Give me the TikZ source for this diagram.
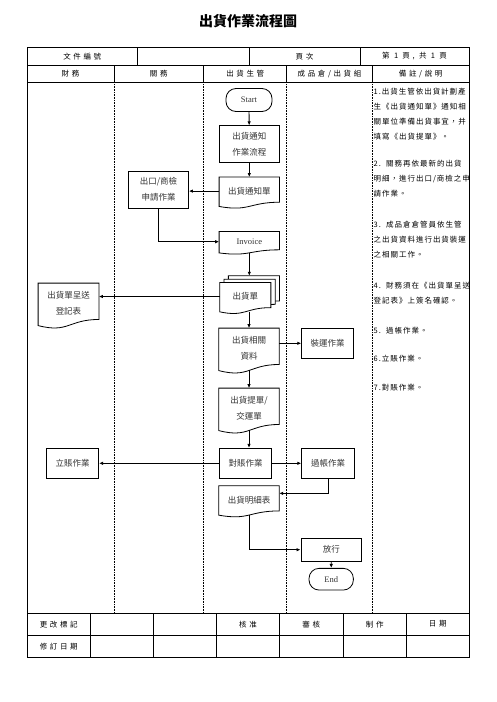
\documentclass[tikz,border=0pt]{standalone}
\usepackage{fontspec}
\setmainfont{Noto Sans CJK TC}
\newfontfamily\notefont[LetterSpace=13]{Noto Sans CJK TC}
\newfontfamily\headfont[LetterSpace=35]{Noto Sans CJK TC}
\newfontfamily\latinfont{Liberation Serif}
\usetikzlibrary{calc,arrows.meta,backgrounds}
\tikzset{
  grid/.style={line width=0.9pt},
  lane/.style={line width=0.6pt, dash pattern=on 0.8pt off 0.8pt},
  head/.style={inner sep=0pt, font=\headfont\fontsize{7.5}{9}\selectfont},
  note/.style={anchor=north west, inner sep=0pt, align=left, font=\notefont\fontsize{7.5}{15}\selectfont},
  box/.style={draw, line width=0.8pt, inner sep=1pt, align=center, text=black!80, font=\fontsize{8.5}{16}\selectfont},
  term/.style={box, rounded corners=10pt, font=\latinfont\fontsize{8.5}{16}\selectfont},
  docu/.style={inner sep=0pt, align=center, text=black!80, font=\fontsize{8.5}{16}\selectfont},
  docline/.style={draw, line width=0.8pt, fill=white},
  flow/.style={line width=0.8pt, -{Latex[length=4pt,width=3.5pt]}}
}
\newcommand\docshape[1]{%
  \draw[docline] (#1.north west) -- (#1.north east) -- ($(#1.north east)!0.896!(#1.south east)$)
    .. controls ($(#1.north)!0.896!(#1.south)$) and ($(#1.north)!1.24!(#1.south)$) .. ($(#1.north west)!1.046!(#1.south west)$) -- cycle;
  \coordinate (#1-b) at ($(#1.north)!1.044!(#1.south)$);}
\begin{document}
\begin{tikzpicture}[x=1pt,y=-1pt]
  \useasboundingbox (0,0) rectangle (496,702);
  \node[font=\bfseries\fontsize{14}{16}\selectfont] (title) at (248,20.7) {出貨作業流程圖};
  \draw[grid] (27,47.7) rectangle (469,657.3);
  \draw[grid] (27,65.3) -- (469,65.3) (27,82.3) -- (469,82.3)
    (27,613.3) -- (469,613.3) (27,635) -- (469,635);
  \draw[grid] (137.7,47.7) -- (137.7,65.3) (249,47.7) -- (249,65.3) (360,47.7) -- (360,65.3);
  \foreach \x in {114,203.7,286.7,372.3} {
    \draw[grid] (\x,65.3) -- (\x,82.3);
    \draw[lane] (\x,82.3) -- (\x,613.3);
  }
  \foreach \x in {90.3,153.3,216.7,279.3,343.3,406.3}
    \draw[line width=0.6pt] (\x,613.3) -- (\x,657.3);

  \node[head] (docno) at (82.3,56.5) {文件編號};
  \node[head] (pageno) at (304.5,56.5) {頁次};
  \node[head] (pages) at (414.5,56.5) {第 1 頁, 共 1 頁};
  \node[head] (lanefin) at (70.5,73.8) {財務};
  \node[head] (lanecus) at (158.8,73.8) {關務};
  \node[head] (laneplan) at (245.2,73.8) {出貨生管};
  \node[head] (lanewh) at (329.5,73.8) {成品倉/出貨組};
  \node[head] (lanenote) at (420.7,73.8) {備註/說明};
  \node[head] (revmark) at (58.7,624.2) {更改標記};
  \node[head] (approve) at (248,624.2) {核准};
  \node[head] (review) at (311.3,624.2) {審核};
  \node[head] (author) at (374.8,624.2) {制作};
  \node[head] (date) at (437.7,624.2) {日期};
  \node[head] (revdate) at (58.7,646.2) {修訂日期};

  \node[note] (n1) at (373.5,87.5) {1.出貨生管依出貨計劃產\\生《出貨通知單》通知相\\關單位準備出貨事宜，并\\填寫《出貨提單》。};
  \node[note] (n2) at (373.5,159.5) {2.\ \ 關務再依最新的出貨\\明細，進行出口/商檢之申\\請作業。};
  \node[note] (n3) at (373.5,220.5) {3.\ \ 成品倉倉管員依生管\\之出貨資料進行出貨裝運\\之相關工作。};
  \node[note] (n4) at (373.5,281.5) {4.\ \ 財務須在《出貨單呈送\\登記表》上簽名確認。};
  \node[note] (n5) at (373.5,326.5) {5.\ \ 過帳作業。};
  \node[note] (n6) at (373.5,354.5) {6.立賬作業。};
  \node[note] (n7) at (373.5,383.5) {7.對賬作業。};

  \node[term, minimum width=46, minimum height=23] (start) at (249,100) {Start};
  \node[box, minimum width=60, minimum height=37] (notice) at (249.3,144.3) {出貨通知\\作業流程};
  \node[docu, minimum width=60, minimum height=27.7] (noticeform) at (249.3,191.1) {出貨通知單};
  \node[box, minimum width=60, minimum height=37] (expbox) at (158.5,189.7) {出口/商檢\\申請作業};
  \node[docu, minimum width=60, minimum height=20.1, font=\latinfont\fontsize{8.5}{16}\selectfont] (invoice) at (249.3,241.7) {Invoice};
  \node[docu, minimum width=50.7, minimum height=27.7] (shipback) at (253.9,289.8) {};
  \node[docu, minimum width=50.7, minimum height=27.7] (shipmid) at (249.6,293.2) {};
  \node[docu, minimum width=50.7, minimum height=27.7] (shipform) at (245.3,296.5) {出貨單};
  \node[docu, minimum width=60.4, minimum height=40.2] (shiplog) at (68.5,303.4) {出貨單呈送\\登記表};
  \node[docu, minimum width=60, minimum height=40.2] (shipdata) at (249,348.4) {出貨相關\\資料};
  \node[box, minimum width=51.7, minimum height=30] (loading) at (327.5,343.3) {裝運作業};
  \node[docu, minimum width=60, minimum height=40.2] (billlading) at (249,408.4) {出貨提單/\\交運單};
  \node[box, minimum width=52.3, minimum height=30] (recon) at (245.5,463.3) {對賬作業};
  \node[box, minimum width=52, minimum height=30] (ledger) at (72.7,463.3) {立賬作業};
  \node[box, minimum width=52.6, minimum height=30] (posting) at (328,463.3) {過帳作業};
  \node[docu, minimum width=60, minimum height=27.7] (detail) at (249,499.8) {出貨明細表};
  \node[box, minimum width=60.7, minimum height=22.7] (release) at (331.3,549.7) {放行};
  \node[term, minimum width=44.3, minimum height=21.7] (fin) at (331.2,579.2) {End};

  \begin{scope}[on background layer]
    \docshape{noticeform}
    \docshape{invoice}
    \docshape{shipback}
    \docshape{shipmid}
    \docshape{shipform}
    \docshape{shiplog}
    \docshape{shipdata}
    \docshape{billlading}
    \docshape{detail}
  \end{scope}

  \draw[flow] (start) -- (notice);
  \draw[flow] (notice) -- (noticeform);
  \draw[flow] (noticeform.west) -- (noticeform.west -| expbox.east);
  \draw[flow] (expbox.south) |- (invoice.west);
  \draw[flow] (invoice-b) -- (invoice-b |- shipback.north);
  \draw[flow] (shipform.west) -- (shipform.west -| shiplog.east);
  \draw[flow] (shipdata.north |- shipform-b) -- (shipdata.north);
  \draw[flow] (loading.west -| shipdata.east) -- (loading.west);
  \draw[flow] (shipdata-b) -- (billlading);
  \draw[flow] (billlading-b) -- (billlading-b |- recon.north);
  \draw[flow] (recon) -- (ledger);
  \draw[flow] (recon) -- (posting);
  \draw[flow] (posting.south) |- ($(detail.north east)!0.27!(detail.south east)$);
  \draw[flow] (detail-b) |- (release.west);
  \draw[flow] (release) -- (fin);
\end{tikzpicture}
\end{document}
